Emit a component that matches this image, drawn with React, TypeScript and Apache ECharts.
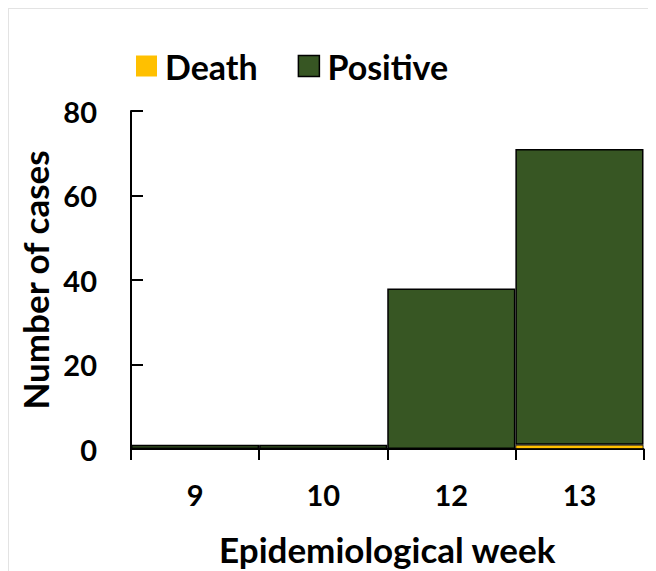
import React, { useEffect, useRef } from "react";
import * as echarts from "echarts";

const categories = ["9", "10", "12", "13"];
const deathValues = [0, 0, 0, 1];
const positiveValues = [1, 1, 38, 70];
const yTicks = { min: 0, max: 80, interval: 20 };

const FONT = "Lato";

export default function App() {
  const ref = useRef<HTMLDivElement>(null);
  useEffect(() => {
    if (!ref.current) return;
    const chart = echarts.init(ref.current, null, { renderer: "svg" });
    chart.setOption({
      animation: false,
      backgroundColor: "#ffffff",
      textStyle: { fontFamily: FONT },
      legend: {
        left: 122,
        top: 35,
        itemWidth: 21,
        itemHeight: 21,
        itemGap: 40,
        icon: "rect",
        textStyle: {
          fontFamily: FONT,
          fontSize: 34,
          fontWeight: "bold",
          color: "#000",
          padding: [0, 0, 0, 3],
        },
        data: [
          { name: "Death", itemStyle: { borderWidth: 0 } },
          { name: "Positive", itemStyle: { borderColor: "#000", borderWidth: 1.5 } },
        ],
      },
      grid: { left: 122, right: 12.5, top: 102, bottom: 120 },
      xAxis: {
        type: "category",
        data: categories,
        boundaryGap: true,
        axisLine: { show: true, lineStyle: { color: "#000", width: 2 } },
        axisTick: { show: true, inside: false, length: 11, lineStyle: { color: "#000", width: 2 } },
        axisLabel: {
          margin: 31,
          fontFamily: FONT,
          fontSize: 29,
          fontWeight: "bold",
          color: "#000",
        },
        name: "Epidemiological week",
        nameLocation: "middle",
        nameGap: 82,
        nameTextStyle: { fontFamily: FONT, fontSize: 35, fontWeight: "bold", color: "#000" },
      },
      yAxis: {
        type: "value",
        min: yTicks.min,
        max: yTicks.max,
        interval: yTicks.interval,
        axisLine: { show: true, lineStyle: { color: "#000", width: 2 } },
        axisTick: { show: true, inside: true, length: 12, lineStyle: { color: "#000", width: 2 } },
        splitLine: { show: false },
        axisLabel: {
          margin: 34,
          fontFamily: FONT,
          fontSize: 29,
          fontWeight: "bold",
          color: "#000",
        },
        name: "Number of cases",
        nameLocation: "middle",
        nameGap: 74,
        nameTextStyle: { fontFamily: FONT, fontSize: 35, fontWeight: "bold", color: "#000" },
      },
      series: [
        {
          name: "Death",
          type: "bar",
          stack: "total",
          data: deathValues,
          barWidth: "100%",
          barCategoryGap: "0%",
          itemStyle: { color: "#FFC000", borderColor: "#000", borderWidth: 0.8 },
        },
        {
          name: "Positive",
          type: "bar",
          stack: "total",
          data: positiveValues,
          barWidth: "100%",
          barCategoryGap: "0%",
          itemStyle: { color: "#375623", borderColor: "#000", borderWidth: 1.5 },
        },
      ],
    });
    return () => chart.dispose();
  }, []);
  return (
    <div
      style={{
        width: 647,
        height: 562,
        borderTop: "1px solid #e3e3e3",
        borderLeft: "1px solid #e3e3e3",
      }}
    >
      <div ref={ref} style={{ width: 647, height: 562 }} />
    </div>
  );
}
